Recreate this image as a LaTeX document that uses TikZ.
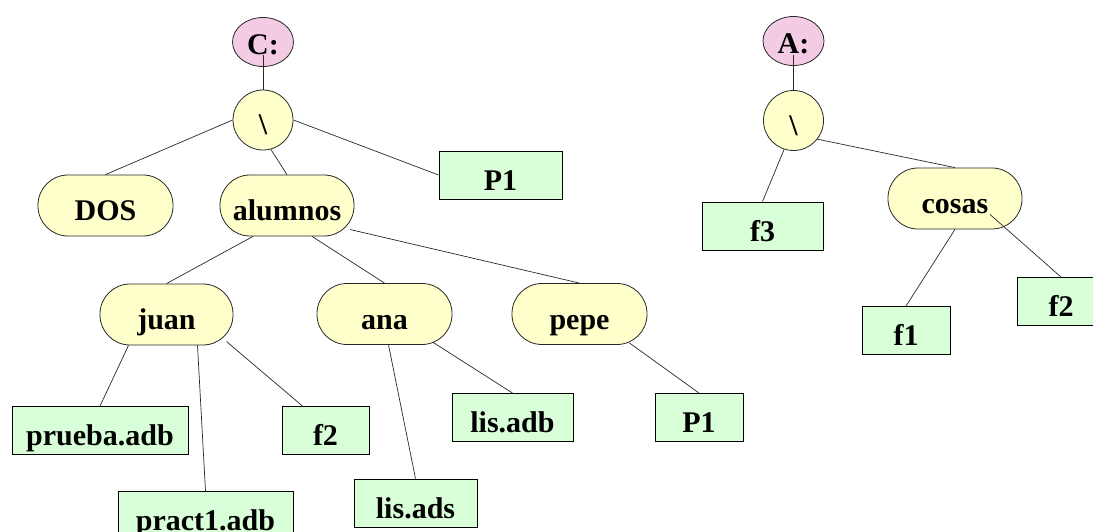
\documentclass[tikz,border=0pt]{standalone}
\usepackage{fontspec}
\setmainfont{Liberation Serif}
\usetikzlibrary{shapes.geometric}
\definecolor{drivepink}{RGB}{243,204,228}
\definecolor{diryellow}{RGB}{255,255,204}
\definecolor{filegreen}{RGB}{217,255,217}
\definecolor{edgegray}{RGB}{40,40,40}
\begin{document}
\begin{tikzpicture}[x=1pt,y=-1pt,
  every node/.style={font=\bfseries\fontsize{30}{36}\selectfont, inner sep=0pt, text height=36pt, text depth=6pt},
  drive/.style={ellipse, draw=edgegray, line width=0.8pt, fill=drivepink, minimum width=61pt, minimum height=49pt, text height=26pt, text depth=0pt},
  rootdir/.style={circle, draw=edgegray, line width=0.8pt, fill=diryellow, minimum size=60pt},
  dirnode/.style={rectangle, rounded corners=30pt, draw=edgegray, line width=0.8pt, fill=diryellow, minimum width=134pt, minimum height=61pt},
  filenode/.style={rectangle, draw=black, line width=0.9pt, fill=filegreen, minimum height=48pt},
  link/.style={draw=edgegray, line width=0.7pt}
]
\useasboundingbox (0,0) rectangle (1093,532);
% left tree
\node[drive] (C) at (263,42) {C:};
\node[rootdir] (rootC) at (263,120) {\textbackslash};
\node[dirnode, minimum width=135pt] (DOS) at (105.5,205.5) {DOS};
\node[dirnode] (alumnos) at (287,205.5) {alumnos};
\node[filenode, minimum width=123pt] (P1a) at (500.5,175) {P1};
\node[dirnode, minimum width=133pt] (juan) at (166.5,314.5) {juan};
\node[dirnode, minimum width=135pt] (ana) at (384.5,314) {ana};
\node[dirnode, minimum width=135pt] (pepe) at (579.5,314) {pepe};
\node[filenode, minimum width=176pt] (prueba) at (100,430.5) {prueba.adb};
\node[filenode, minimum width=87pt] (f2a) at (325.5,430.5) {f2};
\node[filenode, minimum width=175pt] (pract) at (205.5,515.5) {pract1.adb};
\node[filenode, minimum width=123pt] (lisads) at (415.5,503) {lis.ads};
\node[filenode, minimum width=121pt] (lisadb) at (512.5,417.5) {lis.adb};
\node[filenode, minimum width=88pt] (P1b) at (699,417.5) {P1};
% right tree
\node[drive] (A) at (793.5,41) {A:};
\node[rootdir] (rootA) at (793.5,120.5) {\textbackslash};
\node[filenode, minimum width=121pt] (f3) at (762.5,226) {f3};
\node[dirnode] (cosas) at (955,198.5) {cosas};
\node[filenode, minimum width=88pt] (f1) at (906,330.5) {f1};
\node[filenode, minimum width=88pt] (f2b) at (1061,301.5) {f2};
% connectors
\draw[link] ([yshift=-13pt]C.center) -- (rootC.north);
\draw[link] (rootC.west) -- (DOS.north);
\draw[link] (rootC.-75) -- (alumnos.north);
\draw[link] (rootC.east) -- (P1a.west);
\draw[link] ([xshift=-34pt]alumnos.south) -- (juan.north);
\draw[link] ([xshift=25pt]alumnos.south) -- (ana.north);
\draw[link] ([xshift=63pt,yshift=-24pt]alumnos.center) -- (pepe.north);
\draw[link] ([xshift=-38pt]juan.south) -- (prueba.north);
\draw[link] ([xshift=31pt]juan.south) -- (pract.north);
\draw[link] ([xshift=60pt,yshift=-27pt]juan.center) -- ([xshift=-23pt]f2a.north);
\draw[link] ([xshift=4pt]ana.south) -- (lisads.north);
\draw[link] ([xshift=48pt,yshift=-28pt]ana.center) -- (lisadb.north);
\draw[link] ([xshift=50pt,yshift=-29pt]pepe.center) -- (P1b.north);
\draw[link] ([yshift=-14pt]A.center) -- (rootA.north);
\draw[link] (rootA.-108) -- (f3.north);
\draw[link] (rootA.-38) -- (cosas.north);
\draw[link] (cosas.south) -- (f1.north);
\draw[link] ([xshift=35pt,yshift=-16pt]cosas.center) -- (f2b.north);
\end{tikzpicture}
\end{document}
